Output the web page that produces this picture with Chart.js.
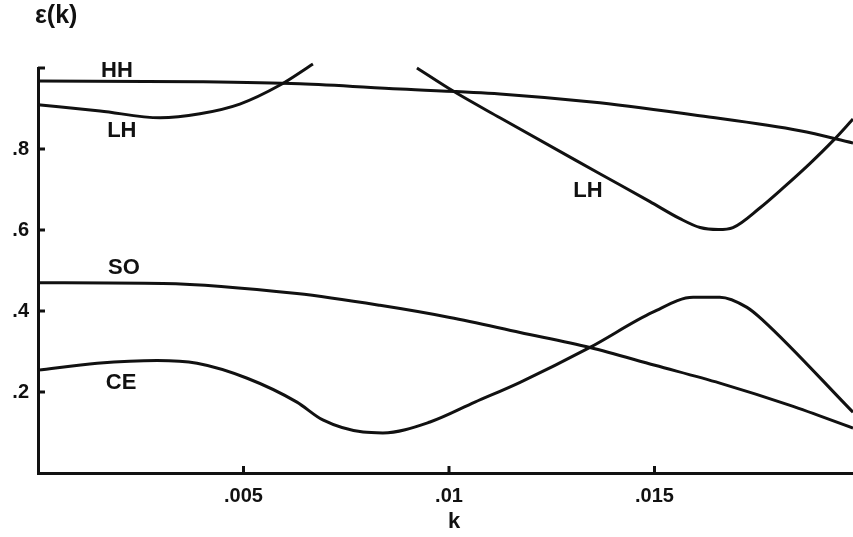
<!DOCTYPE html>
<html>
<head>
<meta charset="utf-8">
<script src="https://cdn.jsdelivr.net/npm/chart.js@4.4.1/dist/chart.umd.min.js"></script>
<style>
  html, body { margin: 0; padding: 0; background: #fff; }
  #wrap { width: 853px; height: 537px; position: relative; }
</style>
</head>
<body>
<div id="wrap"><canvas id="c" width="853" height="537"></canvas></div>
<script>
// axis ticks
var xTicks = [0.005, 0.01, 0.015];
var xTickLabels = ['.005', '.01', '.015'];
var yTicks = [0.2, 0.4, 0.6, 0.8, 1.0];
var yTickLabels = ['.2', '.4', '.6', '.8', ''];

// heavy hole
var hhK = [0, 0.00394, 0.00637, 0.00881, 0.01124, 0.01367, 0.0161, 0.01854, 0.01983];
var hhE = [0.968, 0.966, 0.961, 0.948, 0.936, 0.914, 0.882, 0.845, 0.815];

// light hole, left branch
var lh1K = [0, 0.00151, 0.00297, 0.00394, 0.00491, 0.00589, 0.00669];
var lh1E = [0.909, 0.894, 0.877, 0.887, 0.911, 0.958, 1.010];

// light hole, right branch
var lh2K = [0.00922, 0.0101, 0.01124, 0.01367, 0.01489, 0.01562, 0.01611, 0.01655, 0.01691, 0.01757, 0.01813, 0.01878, 0.01934, 0.01983];
var lh2E = [1.000, 0.943, 0.877, 0.739, 0.670, 0.628, 0.606, 0.601, 0.606, 0.655, 0.704, 0.764, 0.820, 0.874];

// split-off
var soK = [0, 0.00304, 0.0063, 0.00832, 0.01002, 0.01173, 0.01343, 0.01501, 0.01659, 0.0183, 0.01983];
var soE = [0.470, 0.468, 0.443, 0.414, 0.384, 0.347, 0.310, 0.266, 0.222, 0.167, 0.111];

// conduction
var ceK = [0, 0.00144, 0.0029, 0.00387, 0.00509, 0.0063, 0.00693, 0.00791, 0.00839, 0.00954, 0.01063, 0.01173, 0.01343, 0.01496, 0.01594, 0.01659, 0.01725, 0.01764, 0.01983];
var ceE = [0.254, 0.271, 0.278, 0.271, 0.234, 0.175, 0.131, 0.101, 0.099, 0.126, 0.175, 0.224, 0.310, 0.397, 0.434, 0.434, 0.409, 0.377, 0.150];

// curve labels
var labelText = ['HH', 'LH', 'LH', 'SO', 'CE'];
var labelK = [0.00192, 0.00204, 0.01338, 0.00209, 0.00202];
var labelE = [0.993, 0.845, 0.697, 0.507, 0.222];

var INK = '#111';
var FAMILY = '"Liberation Sans", Arial, sans-serif';
var FONT = 'bold 22px ' + FAMILY;

function pts(ks, es) {
  return ks.map(function (k, i) { return { x: k, y: es[i] }; });
}

function series(ks, es) {
  return {
    data: pts(ks, es),
    borderColor: INK,
    borderWidth: 3,
    pointRadius: 0,
    cubicInterpolationMode: 'monotone',
    fill: false,
    clip: false
  };
}

var decorations = {
  id: 'decorations',
  afterDraw: function (chart) {
    var ctx = chart.ctx;
    var xs = chart.scales.x, ys = chart.scales.y;
    var area = chart.chartArea;
    ctx.save();
    ctx.strokeStyle = INK;
    ctx.lineWidth = 3;
    // inward tick marks
    yTicks.forEach(function (v) {
      var py = ys.getPixelForValue(v);
      ctx.beginPath();
      ctx.moveTo(area.left, py);
      ctx.lineTo(area.left + 7, py);
      ctx.stroke();
    });
    xTicks.forEach(function (v) {
      var px = xs.getPixelForValue(v);
      ctx.beginPath();
      ctx.moveTo(px, area.bottom);
      ctx.lineTo(px, area.bottom - 7);
      ctx.stroke();
    });
    // curve labels
    ctx.fillStyle = INK;
    ctx.font = FONT;
    ctx.textAlign = 'center';
    ctx.textBaseline = 'middle';
    labelText.forEach(function (t, i) {
      ctx.fillText(t, xs.getPixelForValue(labelK[i]), ys.getPixelForValue(labelE[i]));
    });
    // axis titles
    ctx.fillText('k', xs.getPixelForValue(0.01) + 5, 522);
    ctx.textAlign = 'left';
    ctx.font = 'bold 25px ' + FAMILY;
    ctx.fillText('\u03b5(k)', 35, 16);
    ctx.restore();
  }
};

new Chart(document.getElementById('c'), {
  type: 'line',
  data: {
    datasets: [
      series(hhK, hhE),
      series(lh1K, lh1E),
      series(lh2K, lh2E),
      series(soK, soE),
      series(ceK, ceE)
    ]
  },
  options: {
    responsive: false,
    animation: false,
    layout: { padding: { top: 68, right: 0, left: 0, bottom: 0 } },
    plugins: { legend: { display: false }, tooltip: { enabled: false }, title: { display: false } },
    scales: {
      x: {
        type: 'linear',
        min: 0,
        max: 0.01983,
        afterFit: function (s) { s.height = 64; },
        afterBuildTicks: function (s) { s.ticks = xTicks.map(function (v) { return { value: v }; }); },
        grid: { display: true, drawOnChartArea: false, drawTicks: false },
        border: { display: true, color: INK, width: 3 },
        ticks: {
          color: INK,
          padding: 11,
          maxRotation: 0,
          font: { family: FAMILY, size: 20, weight: 'bold' },
          callback: function (v) {
            var i = xTicks.indexOf(v);
            return i >= 0 ? xTickLabels[i] : '';
          }
        }
      },
      y: {
        type: 'linear',
        min: 0,
        max: 1.0,
        afterFit: function (s) { s.width = 38; },
        afterBuildTicks: function (s) { s.ticks = yTicks.map(function (v) { return { value: v }; }); },
        grid: { display: true, drawOnChartArea: false, drawTicks: false },
        border: { display: true, color: INK, width: 3 },
        ticks: {
          color: INK,
          padding: 9,
          font: { family: FAMILY, size: 20, weight: 'bold' },
          callback: function (v) {
            var i = yTicks.indexOf(v);
            return i >= 0 ? yTickLabels[i] : '';
          }
        }
      }
    }
  },
  plugins: [decorations]
});
</script>
</body>
</html>
